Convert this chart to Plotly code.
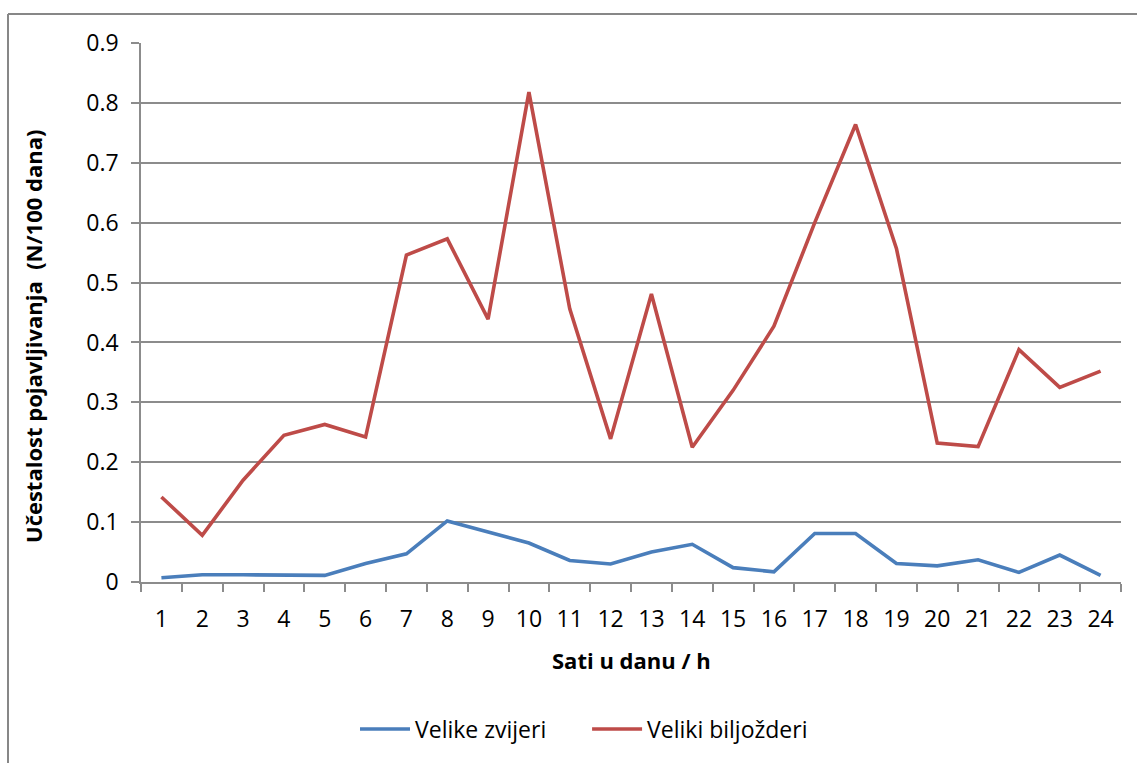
import plotly.graph_objects as go

# Hours of the day (category axis)
hours = [str(h) for h in range(1, 25)]

# Occurrence frequency (N/100 days) per hour
velike_zvijeri = [0.007, 0.012, 0.012, 0.011, 0.011, 0.031, 0.047, 0.102,
                  0.084, 0.065, 0.036, 0.030, 0.050, 0.063, 0.024, 0.017,
                  0.081, 0.081, 0.031, 0.027, 0.037, 0.016, 0.045, 0.011]
veliki_biljozderi = [0.142, 0.078, 0.170, 0.245, 0.263, 0.242, 0.546, 0.573,
                     0.439, 0.818, 0.456, 0.239, 0.481, 0.225, 0.320, 0.427,
                     0.600, 0.764, 0.557, 0.232, 0.226, 0.388, 0.325, 0.352]

y_ticks = [0, 0.1, 0.2, 0.3, 0.4, 0.5, 0.6, 0.7, 0.8, 0.9]

W, H = 1137, 763
L, R, T, B = 141, 16, 43, 181
FONT = "Open Sans"
TICK_SIZE = 23
TITLE_SIZE = 22
GRID = "#8c8c8c"
PAD = "&nbsp;" * 6  # extra gap between legend entries

fig = go.Figure()
fig.add_trace(go.Scatter(x=hours, y=velike_zvijeri, mode="lines",
                         name="Velike zvijeri" + PAD,
                         line=dict(color="#4A7EBB", width=3.6)))
fig.add_trace(go.Scatter(x=hours, y=veliki_biljozderi, mode="lines",
                         name="Veliki biljožderi",
                         line=dict(color="#BE4B48", width=3.6)))

pw = W - L - R
ph = H - T - B


def px_x(p):
    return (p - L) / pw


def px_y(p):
    return (H - B - p) / ph


# Outer chart frame (top and left edges visible)
fig.add_shape(type="line", xref="paper", yref="paper",
              x0=px_x(8), x1=px_x(1145), y0=px_y(14), y1=px_y(14),
              line=dict(color="#878787", width=2))
fig.add_shape(type="line", xref="paper", yref="paper",
              x0=px_x(8), x1=px_x(8), y0=px_y(14), y1=px_y(770),
              line=dict(color="#878787", width=2))

# Axis titles placed as annotations
fig.add_annotation(text="<b>Sati u danu / h</b>", xref="paper", yref="paper",
                   x=0.5, y=px_y(660), xanchor="center", yanchor="middle",
                   showarrow=False, font=dict(size=TITLE_SIZE, family=FONT))
fig.add_annotation(text="<b>Učestalost pojavljivanja  (N/100 dana)</b>",
                   xref="paper", yref="paper", textangle=-90,
                   x=px_x(33), y=px_y(337), xanchor="center", yanchor="middle",
                   showarrow=False, font=dict(size=TITLE_SIZE, family=FONT))

fig.update_layout(
    width=W, height=H,
    margin=dict(l=L, r=R, t=T, b=B),
    paper_bgcolor="white", plot_bgcolor="white",
    font=dict(family=FONT, color="black", size=TICK_SIZE),
    showlegend=True,
    legend=dict(orientation="h", x=px_x(584), xanchor="center",
                y=px_y(729), yanchor="middle",
                font=dict(size=TICK_SIZE, family=FONT),
                itemwidth=50, tracegroupgap=0,
                bgcolor="rgba(0,0,0,0)"),
    xaxis=dict(type="category", categoryorder="array", categoryarray=hours,
               range=[-0.5, 23.5],
               showgrid=False, showline=True, linecolor=GRID, linewidth=1.5,
               ticks="outside", tickson="boundaries", ticklen=8,
               tickcolor=GRID, tickwidth=1.5, ticklabelstandoff=16,
               tickfont=dict(size=TICK_SIZE, family=FONT),
               fixedrange=True),
    yaxis=dict(range=[0, 0.9], tickvals=y_ticks,
               ticktext=["0" if v == 0 else f"{v:.1f}" for v in y_ticks],
               showgrid=True, gridcolor=GRID, gridwidth=1.5,
               showline=True, linecolor=GRID, linewidth=1.5,
               ticks="outside", ticklen=8, tickcolor=GRID, tickwidth=1.5,
               ticklabelstandoff=8, zeroline=False,
               tickfont=dict(size=TICK_SIZE, family=FONT),
               fixedrange=True),
)

fig.write_html("out.html")
